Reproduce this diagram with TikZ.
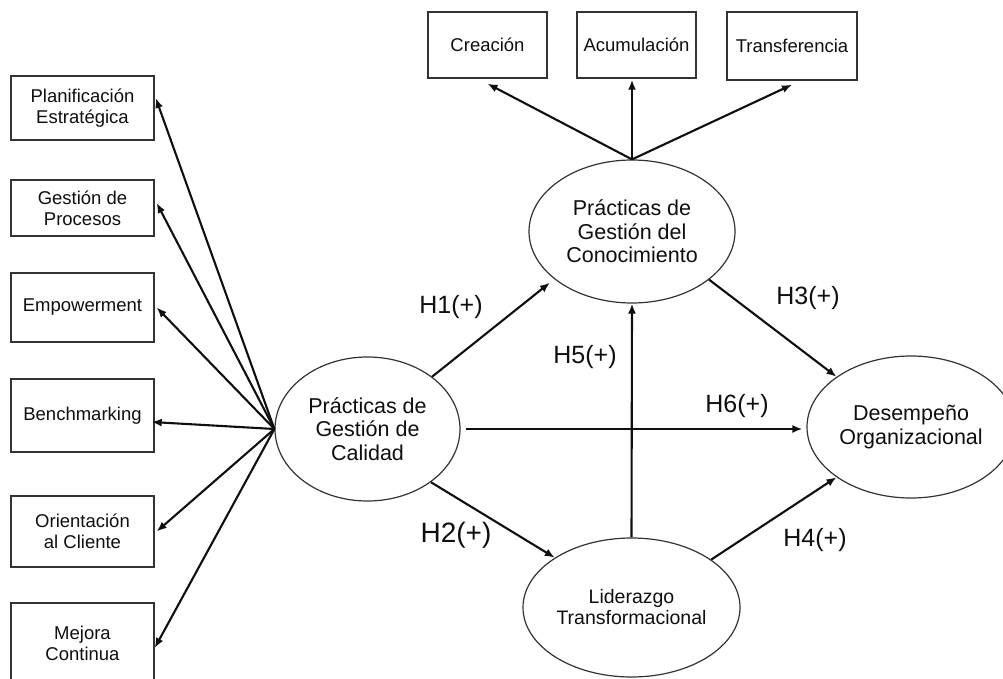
\documentclass[tikz,border=0pt]{standalone}
\usepackage{fontspec}
\setmainfont{Liberation Sans}
\usetikzlibrary{shapes.geometric,arrows.meta}
\definecolor{linegray}{gray}{0.2}
\definecolor{inkblack}{gray}{0.06}

\begin{document}
\begin{tikzpicture}[x=1pt,y=-1pt,
  box/.style={draw=linegray,line width=1.4pt,rectangle,inner sep=0pt,align=center,
    text=inkblack,font=\fontsize{18.5}{21}\selectfont},
  latent/.style={draw=linegray,line width=1.2pt,ellipse,inner sep=0pt,align=center,
    text=inkblack,font=\fontsize{21.5}{23.5}\selectfont},
  link/.style={line width=2.1pt,draw=inkblack,-{Latex[length=10pt,width=8pt]}},
  hyp/.style={text=inkblack,font=\fontsize{25}{25}\selectfont,inner sep=0pt}
]
\useasboundingbox[fill=white] (0,0) rectangle (1003,679);
\clip (0,0) rectangle (1003,679);

% indicators of quality management
\node[box,minimum width=143,minimum height=64] (b1) at (82.5,108) {Planificación\\Estratégica};
\node[box,minimum width=143,minimum height=56] (b2) at (82.5,208) {Gestión de\\Procesos};
\node[box,minimum width=143,minimum height=69] (b3) at (82.5,307.5) {Empowerment};
\node[box,minimum width=143,minimum height=73] (b4) at (82.5,415.5) {Benchmarking};
\node[box,minimum width=143,minimum height=71] (b5) at (82.5,531.5) {Orientación\\al Cliente};
\node[box,minimum width=143,minimum height=80] (b6) at (82.5,643) {Mejora\\Continua};

% indicators of knowledge management
\node[box,minimum width=119,minimum height=66] (cre) at (487.5,45) {Creación};
\node[box,minimum width=119,minimum height=66] (acu) at (636.5,45) {Acumulación};
\node[box,minimum width=130,minimum height=68] (tra) at (792,46) {Transferencia};

% latent constructs
\node[latent,minimum width=185,minimum height=144] (q) at (367.5,429) {Prácticas de\\Gestión de\\Calidad};
\node[latent,minimum width=206,minimum height=143] (k) at (632,231.5) {Prácticas de\\Gestión del\\Conocimiento};
\node[latent,minimum width=208,minimum height=142] (d) at (911,427) {Desempeño\\Organizacional};
\node[latent,minimum width=217,minimum height=139,font=\fontsize{19.5}{21}\selectfont] (l) at (631.5,607.5) {Liderazgo\\Transformacional};

% quality practices -> indicators
\draw[link] (q.west) -- ([xshift=1pt,yshift=10pt]b1.east);
\draw[link] (q.west) -- ([xshift=2pt,yshift=5pt]b2.east);
\draw[link] (q.west) -- ([xshift=2pt]b3.east);
\draw[link] (q.west) -- ([xshift=-3pt,yshift=-6.5pt]b4.east);
\draw[link] (q.west) -- ([xshift=2pt]b5.east);
\draw[link] (q.west) -- ([xshift=0pt,yshift=-5pt]b6.east);

% knowledge practices -> indicators
\draw[link] (k.north) -- ([yshift=-5pt]cre.south);
\draw[link] (k.north) -- ([xshift=-4.5pt,yshift=-1pt]acu.south);
\draw[link] (k.north) -- ([yshift=-4pt]tra.south);

% hypotheses
\draw[link] (q.39) -- ([shift={(-5pt,-3pt)}]k.212);
\draw[link] (q.-40.5) -- (l.147.8);
\draw[link] (l.north) -- (k.south);
\draw[link,shorten <=5pt,shorten >=4pt] (q.east) -- (q.east -| d.west);
\draw[link] (k.-32.4) -- (d.146.7);
\draw[link] (l.31.3) -- (d.214.4);

\node[hyp] (h1) at (451,307) {H1(+)};
\node[hyp,font=\fontsize{28}{28}\selectfont] (h2) at (456,535) {H2(+)};
\node[hyp] (h3) at (808,298) {H3(+)};
\node[hyp] (h4) at (815,540) {H4(+)};
\node[hyp] (h5) at (585,357) {H5(+)};
\node[hyp] (h6) at (737,406) {H6(+)};
\end{tikzpicture}
\end{document}
